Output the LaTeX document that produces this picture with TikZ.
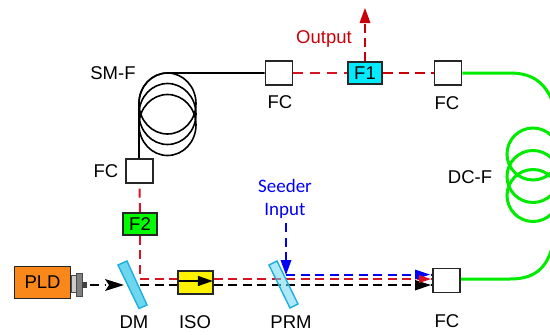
\documentclass[tikz,border=0pt]{standalone}
\usepackage{fontspec}
\setmainfont{Liberation Sans}
\newfontfamily\seedfont{Carlito}
\usetikzlibrary{arrows.meta}
\definecolor{redd}{RGB}{215,20,35}
\definecolor{outred}{RGB}{200,0,10}
\definecolor{bluel}{RGB}{0,0,245}
\definecolor{greenf}{RGB}{0,235,0}
\definecolor{ftwofill}{RGB}{0,250,0}
\definecolor{fonefill}{RGB}{0,235,255}
\definecolor{mirfill}{RGB}{110,215,240}
\definecolor{mirdraw}{RGB}{30,175,220}
\definecolor{plorange}{RGB}{250,135,25}
\tikzset{
  box/.style={draw=black!85,line width=1.6pt,inner sep=0pt,font=\fontsize{18.5}{18.5}\selectfont},
  fcbox/.style={box,fill=white,minimum width=27pt,minimum height=24pt},
  lab/.style={inner sep=0pt,text=black,font=\fontsize{18.5}{18.5}\selectfont},
  seedlab/.style={lab,anchor=base,text=bluel,font=\seedfont\fontsize{19}{19}\selectfont},
  dd/.style={line width=2pt,dash pattern=on 9pt off 5.5pt},
  redray/.style={dd,draw=redd},
  blackray/.style={dd,draw=black},
  blueray/.style={dd,draw=bluel},
  fibre/.style={draw=black,line width=1.6pt},
  dcfibre/.style={draw=greenf,line width=3pt},
  mirror/.style={draw=mirdraw,line width=1.4pt,fill=mirfill}
}
\begin{document}
\begin{tikzpicture}[x=1pt,y=-1pt]
\useasboundingbox (0,0) rectangle (550,335);
\clip (0,0) rectangle (550,335);
% nodes
\node[fcbox] (fca) at (279,73) {};
\node[fcbox] (fcb) at (448,73) {};
\node[fcbox] (fcc) at (139.5,171) {};
\node[fcbox] (fcd) at (446.5,280.5) {};
\node[box,fill=fonefill,minimum width=34pt,minimum height=22pt] (fone) at (365,73) {F1};
\node[box,fill=ftwofill,minimum width=34pt,minimum height=22pt] (ftwo) at (140,224) {F2};
\node[box,fill=plorange,minimum width=56pt,minimum height=32pt] (pld) at (42.5,282.5) {PLD};
\node[box,fill=yellow,minimum width=35pt,minimum height=23pt] (iso) at (195.5,282.5) {};
\coordinate (outtip) at (365,8);
\coordinate (seedstart) at (286,223);
\coordinate (seedtip) at (286,275);
\coordinate (corner) at (140,279);
\coordinate (dmpt) at (140,285);
\coordinate (pldgo) at (90,285);
\coordinate (dmtip) at (124,285);
% fibres
\foreach \cy in {103.5,114,125} \draw[fibre] (167.5,\cy) ellipse [x radius=28.5,y radius=30.5];
\draw[fibre] (fcc.north -| 139,0) -- (139,103) arc[start angle=180,end angle=270,x radius=28.5,y radius=30] -- (fca.west);
\foreach \cy in {154,176.5,195.5} \draw[dcfibre] (533,\cy) circle [radius=26];
\draw[dcfibre] (fcb.east) -- (510,73) .. controls (535,73) and (545,85) .. (552,100);
\draw[dcfibre] (fcd.east |- 0,279) -- (510,279) .. controls (535,279) and (546,268) .. (552,248);
% rays behind mirrors
\draw[redray] (ftwo.south) -- (corner) -- (iso.west |- corner);
\draw[redray] (ftwo.north) -- (fcc.south);
\draw[redray] (iso.east |- corner) -- (fcd.west |- corner);
\draw[blackray] (dmpt) -- (iso.west |- dmpt);
\draw[blackray] (iso.east |- dmpt) -- (fcd.west |- dmpt);
\draw[blueray] (seedtip) -- (fcd.west |- seedtip);
% arrowheads at FC
\fill[bluel] (430,274.5) -- (415,269.5) -- (415,279.5) -- cycle;
\fill[black] (431,285) -- (415,280) -- (415,290.5) -- cycle;
\fill[redd] (431,279) -- (419,275) -- (419,283) -- cycle;
% mirrors
\draw[mirror] (118,265) -- (127,261) -- (147,305) -- (139,308.5) -- cycle;
\draw[mirror,fill opacity=.55] (269,265) -- (277,261) -- (298,304) -- (290,308) -- cycle;
% PLD pigtail
\draw[draw=black!70,fill=black!20,line width=.8pt] (pld.east |- 0,275) rectangle (76,292);
\draw[draw=black!70,fill=black!50,line width=.8pt] (76,273) rectangle (82,296);
\fill[black!75] (82,282) rectangle (87,288);
% arrows
\draw[blackray] (pldgo) -- (106,285);
\fill[black] (dmtip) -- (105,279) -- (109,285) -- (105,291) -- cycle;
\draw[-{Triangle[length=15pt,width=10pt]},line width=1.5pt] ([xshift=2pt,yshift=1.5pt]iso.west) -- ([xshift=-1pt,yshift=1.5pt]iso.east);
\draw[redray,dash pattern=on 10pt off 7pt] (fca.east) -- (fone.west);
\draw[redray,draw=outred,dash pattern=on 10pt off 6pt] (fone.east) -- (fcb.west);
\draw[draw=outred,line width=2pt,dash pattern=on 9pt off 5pt] (fone.north) -- (365,22);
\fill[outred] (outtip) -- (359.5,23) -- (370.5,23) -- cycle;
\draw[blueray] (seedstart) -- (286,261);
\fill[bluel] (seedtip) -- (280.5,260) -- (291.5,260) -- cycle;
% labels
\node[lab] (lsm) at (113,73) {SM-F};
\node[lab] (lfcc) at (106,171) {FC};
\node[lab] (lfca) at (280,102) {FC};
\node[lab] (lfcb) at (447,103) {FC};
\node[lab] (ldc) at (470,177) {DC-F};
\node[lab] (ldm) at (134,322) {DM};
\node[lab] (liso) at (195,322) {ISO};
\node[lab] (lprm) at (291,322) {PRM};
\node[lab] (lfcd) at (447,321) {FC};
\node[lab,anchor=base,text=outred] (lout) at (324,43) {Output};
\node[seedlab] (ls) at (285,192) {Seeder};
\node[seedlab] (li) at (285,215) {Input};
\end{tikzpicture}
\end{document}
